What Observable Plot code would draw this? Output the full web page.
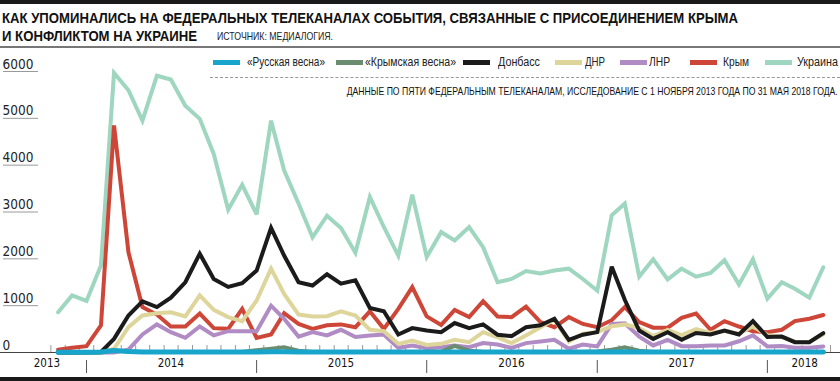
<!DOCTYPE html>
<html><head><meta charset="utf-8">
<script src="https://cdn.jsdelivr.net/npm/d3@7"></script>
<script src="https://cdn.jsdelivr.net/npm/@observablehq/plot@0.6"></script>
<style>
body{margin:0;background:#fff;}
#wrap{position:relative;width:840px;height:381px;overflow:hidden;font-family:"Liberation Sans",Arial,sans-serif;color:#111;}
#chart{position:absolute;left:0;top:0;}
.abs{position:absolute;white-space:nowrap;}
.t{font-weight:bold;font-size:15px;line-height:15px;color:#111;}
.src{font-size:10.5px;line-height:10.5px;color:#222;}
.note{font-size:10.5px;line-height:10.5px;color:#111;}
.leg{font-size:13px;line-height:13px;color:#222;}
</style></head>
<body><div id="wrap"><div id="chart"></div></div>
<script>
// ---- data ----
const seriesNames = ["«Русская весна»","«Крымская весна»","Донбасс","ДНР","ЛНР","Крым","Украина"];
const seriesColors = ["#17a5cc","#6a8c6f","#1b1b1b","#ded59b","#b08bc4","#cd4637","#9fd6bf"];
// monthly values, Nov 2013 .. May 2018 (55 months)
const russkayaVesna = [5,5,5,10,40,20,10,10,10,10,10,10,10,10,10,15,15,10,10,10,10,10,10,10,10,10,10,10,10,10,10,10,10,10,10,10,10,10,10,10,15,10,10,10,10,10,10,10,10,10,10,10,10,10,10];
const krymskayaVesna = [0,0,0,0,40,20,10,10,10,10,10,10,10,10,50,80,110,40,10,10,10,10,10,10,10,10,10,20,140,40,10,10,10,10,10,10,10,10,20,60,110,40,10,10,10,10,10,10,10,10,10,10,10,10,10];
const donbass = [0,0,5,10,290,790,1090,970,1170,1500,2110,1570,1400,1480,1750,2660,2070,1500,1430,1670,1470,1540,950,880,385,520,470,435,630,520,600,380,350,540,580,720,270,380,435,1830,1125,470,290,435,270,415,385,470,385,670,330,340,220,220,415];
const dnr = [0,0,0,0,80,540,790,840,860,770,1220,910,755,670,1110,1790,1250,810,770,775,880,790,485,455,185,255,160,185,270,220,435,325,200,365,540,700,235,400,435,560,600,520,350,480,370,500,420,460,400,560,370,330,230,220,390];
const lnr = [0,0,0,0,0,60,385,600,435,315,555,365,455,455,455,1000,720,340,435,365,485,330,365,385,100,150,90,115,150,115,200,170,100,200,235,270,80,170,130,610,625,340,150,270,135,135,150,150,240,365,130,140,100,100,130];
const krym = [60,100,135,580,4850,2140,970,810,555,555,830,520,505,930,310,385,840,610,505,580,600,540,880,505,930,1395,770,590,910,755,1095,770,755,980,650,540,755,610,540,690,970,650,530,530,740,830,485,670,555,455,435,485,670,720,800];
const ukraina = [860,1220,1100,1860,5970,5600,4950,5910,5830,5270,4990,4240,3050,3580,2950,4950,3890,3180,2460,2920,2660,2130,3320,2680,2070,3370,2040,2570,2390,2680,2250,1500,1570,1740,1690,1750,1790,1570,1320,2930,3180,1620,1990,1560,1790,1620,1700,1970,1450,1990,1150,1500,1360,1170,1820];
const yTicks = [0,1000,2000,3000,4000,5000,6000];
const yearLabels = ["2013","2014","2015","2016","2017","2018"];
const yearLabelDates = ["2013-10-08","2014-07-01","2015-07-01","2016-07-01","2017-07-01","2018-03-22"];
const yearSeparators = ["2014-01-01","2015-01-01","2016-01-01","2017-01-01","2018-01-01"];
const titleLine1 = "КАК УПОМИНАЛИСЬ НА ФЕДЕРАЛЬНЫХ ТЕЛЕКАНАЛАХ СОБЫТИЯ, СВЯЗАННЫЕ С ПРИСОЕДИНЕНИЕМ КРЫМА";
const titleLine2 = "И КОНФЛИКТОМ НА УКРАИНЕ";
const sourceText = "ИСТОЧНИК: МЕДИАЛОГИЯ.";
const noteText = "ДАННЫЕ ПО ПЯТИ ФЕДЕРАЛЬНЫМ ТЕЛЕКАНАЛАМ, ИССЛЕДОВАНИЕ С 1 НОЯБРЯ 2013 ГОДА ПО 31 МАЯ 2018 ГОДА.";

// ---- build ----
const months = d3.utcMonth.range(new Date(Date.UTC(2013,10,1)), new Date(Date.UTC(2018,5,1)));
const monthTicks = d3.utcMonth.range(new Date(Date.UTC(2013,9,1)), new Date(Date.UTC(2018,5,1))).map(d => new Date(+d + 15.5*864e5));
const valueArrays = [russkayaVesna, krymskayaVesna, donbass, dnr, lnr, krym, ukraina];
const series = seriesNames.map((name,k) => ({name, color: seriesColors[k], rows: valueArrays[k].map((v,i)=>({date: months[i], value: v}))}));
const drawOrder = ["Украина","Крым","ЛНР","ДНР","Донбасс","«Крымская весна»","«Русская весна»"];
const P = s => new Date(s + "T00:00:00Z");
const svgFont = '"DejaVu Sans Condensed","Liberation Sans Narrow",sans-serif';

const chart = Plot.plot({
  width: 840, height: 381,
  marginLeft: 0, marginRight: 0, marginTop: 71, marginBottom: 29,
  style: {fontFamily: svgFont, background: "transparent", overflow: "visible"},
  x: {type: "utc", domain: [new Date(Date.UTC(2013,5,30,10)), new Date(Date.UTC(2018,5,6,22))]},
  y: {domain: [0, 6000]},
  marks: [
    Plot.axisY({ticks: yTicks.filter(d => d > 0), tickSize: -35, dx: 3, tickFormat: () => "", label: null, stroke: "#9a9a9a", strokeWidth: 1}),
    Plot.text(yTicks, {y: d => d, text: d => String(d), frameAnchor: "left", textAnchor: "start", lineAnchor: "bottom", dx: 2, dy: -3, fontSize: 13.5, fill: "#222"}),
    Plot.axisX({ticks: monthTicks, tickSize: -7, tickFormat: () => "", label: null, stroke: "#999", strokeWidth: 1}),
    Plot.axisX({ticks: yearSeparators.map(P), tickSize: 13, dy: 8, tickFormat: () => "", label: null, stroke: "#555", strokeWidth: 1}),
    Plot.text(yearLabels, {x: (d,i) => P(yearLabelDates[i]), text: d => d, frameAnchor: "bottom", dy: 14, fontSize: 11.5, fill: "#111"}),
    Plot.ruleY([0], {stroke: "#444", strokeWidth: 1}),
    ...drawOrder.map(n => {
      const s = series.find(t => t.name === n);
      return Plot.line(s.rows, {x: "date", y: "value", stroke: s.color, strokeWidth: n === "«Русская весна»" ? 5 : 4, strokeLinejoin: "miter", strokeMiterlimit: 3});
    })
  ]
});
document.getElementById("chart").appendChild(chart);

const wrap = document.getElementById("wrap");
function add(cls, text, css){ const e = document.createElement("div"); e.className = "abs " + cls; e.textContent = text; Object.assign(e.style, css); wrap.appendChild(e); return e; }
function fit(e, w, origin){ const r = e.getBoundingClientRect().width; e.style.transformOrigin = origin || "0 0"; e.style.transform = "scaleX(" + (w / r) + ")"; return e; }
function box(css){ const e = document.createElement("div"); e.className = "abs"; Object.assign(e.style, css); wrap.appendChild(e); return e; }

box({left:"0px", top:"0px", width:"840px", height:"4px", background:"#1a1a1a"});
box({left:"0px", top:"377px", width:"840px", height:"4px", background:"#1a1a1a"});
box({left:"0px", top:"46px", width:"840px", height:"1.5px", background:"#777"});
box({left:"210px", top:"77px", width:"630px", height:"0px", borderTop:"1px dashed #999"});

fit(add("t", titleLine1, {left:"2px", top:"10px"}), 736);
fit(add("t", titleLine2, {left:"2px", top:"28px"}), 195);
fit(add("src", sourceText, {left:"217px", top:"31px"}), 116);
fit(add("note", noteText, {right:"2px", top:"86px"}), 491, "100% 0");

const legendPos = [[213,247,78],[336,365,91],[463,498,42],[555,585,20],[620,649,21],[690,723,26],[765,797,41]];
seriesNames.forEach((n,k) => {
  box({left: legendPos[k][0]+"px", top:"60px", width:"27px", height:"5px", background: seriesColors[k]});
  fit(add("leg", n, {left: legendPos[k][1]+"px", top:"55px"}), legendPos[k][2]);
});
</script></body></html>
